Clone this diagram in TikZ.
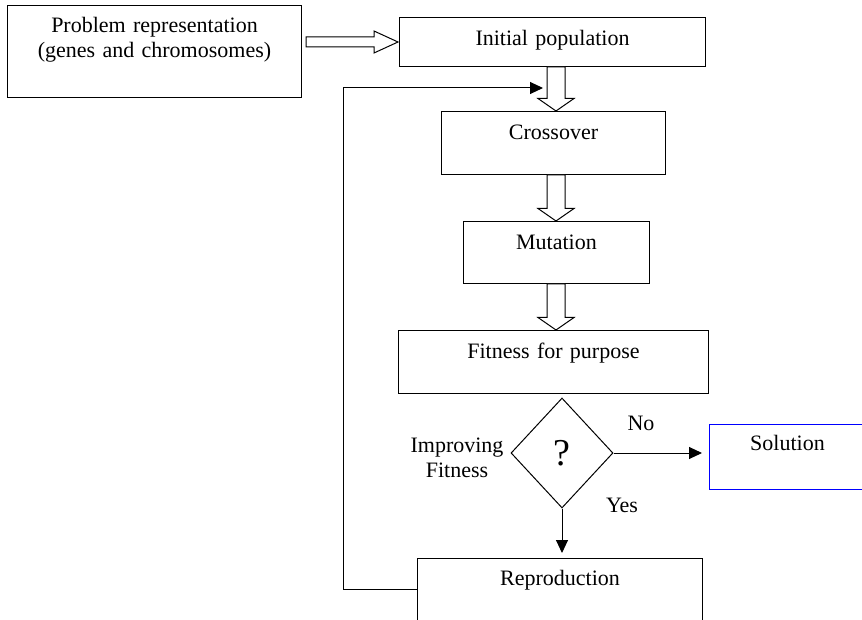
\documentclass[tikz,border=0pt]{standalone}
\usepackage{fontspec}
\setmainfont{Liberation Serif}
\usetikzlibrary{shapes.geometric,arrows.meta}

% hollow block arrow pointing down, from a start point to a tip point
\newcommand\vblock[2]{%
  \draw[barrow] ([xshift=-9pt]#1) -- ([xshift=-9pt,yshift=12.5pt]#2)
    -- ([xshift=-18pt,yshift=12.5pt]#2) -- (#2)
    -- ([xshift=18pt,yshift=12.5pt]#2) -- ([xshift=9pt,yshift=12.5pt]#2)
    -- ([xshift=9pt]#1) -- cycle;}

\begin{document}
\begin{tikzpicture}[x=1pt,y=-1pt,
  every node/.style={font=\fontsize{22}{25}\selectfont},
  flowbox/.style n args={4}{draw, line width=1pt, inner sep=0pt,
    anchor=north west, text width=#1pt, align=center,
    text height=#2pt, text depth=#3pt, #4},
  barrow/.style={draw, fill=white, line width=1pt, line join=miter},
  conn/.style={line width=1pt, -{Triangle[length=13pt,width=12pt]}},
  plain/.style={inner sep=0pt, align=center}]

\clip (0,0) rectangle (862,620);
\fill[white] (0,0) rectangle (862,620);

% process boxes
\node[flowbox={294}{27.5}{64.5}{}] (prob) at (7,5)
  {Problem representation\\(genes and chromosomes)};
\node[flowbox={306}{28}{21}{}] (init) at (399,17) {Initial population};
\node[flowbox={224}{28}{35}{}] (cross) at (441,111) {Crossover};
\node[flowbox={186}{28}{34}{}] (mut) at (463,221) {Mutation};
\node[flowbox={310}{28}{35}{}] (fit) at (398,330) {Fitness for purpose};
\node[flowbox={156}{26}{39}{draw=blue}] (sol) at (709,424) {Solution};
\node[flowbox={285}{27}{34.5}{}] (rep) at (417,558) {Reproduction};

% decision
\node[draw, line width=1pt, shape=diamond, inner sep=0pt,
  minimum width=102pt, minimum height=110pt,
  font=\fontsize{38}{40}\selectfont] (dec) at (562,453) {?};
\node[plain] (decl) at (457,458) {Improving\\Fitness};
\node[plain] (nol) at (641,423) {No};
\node[plain] (yesl) at (622,505) {Yes};

% hollow block arrow into the initial population
\coordinate (hs) at (prob.east |- init.west);
\draw[barrow] ([xshift=4pt,yshift=5pt]hs) -- ([xshift=-25pt,yshift=5pt]init.west)
  -- ([xshift=-25pt,yshift=11pt]init.west) -- ([xshift=-1pt]init.west)
  -- ([xshift=-25pt,yshift=-11pt]init.west) -- ([xshift=-25pt,yshift=-5pt]init.west)
  -- ([xshift=4pt,yshift=-5pt]hs) -- cycle;

% hollow block arrows down the main column
\coordinate (ax) at (556,0);
\coordinate (a1s) at (ax |- init.south);  \coordinate (a1e) at (ax |- cross.north);
\coordinate (a2s) at (ax |- cross.south); \coordinate (a2e) at (ax |- mut.north);
\coordinate (a3s) at (ax |- mut.south);   \coordinate (a3e) at (ax |- fit.north);
\vblock{a1s}{a1e}
\vblock{a2s}{a2e}
\vblock{a3s}{a3e}

% decision outcomes
\draw[conn, shorten >=7pt] (dec.east) -- (dec.east -| sol.west);
\draw[conn, shorten >=5pt] (dec.south) -- (dec.south |- rep.north);

% feedback loop from reproduction
\coordinate (lc) at (343,88);
\coordinate (lt) at (543,88);
\draw[conn] (rep.west) -| (lc) -- (lt);
\end{tikzpicture}
\end{document}
